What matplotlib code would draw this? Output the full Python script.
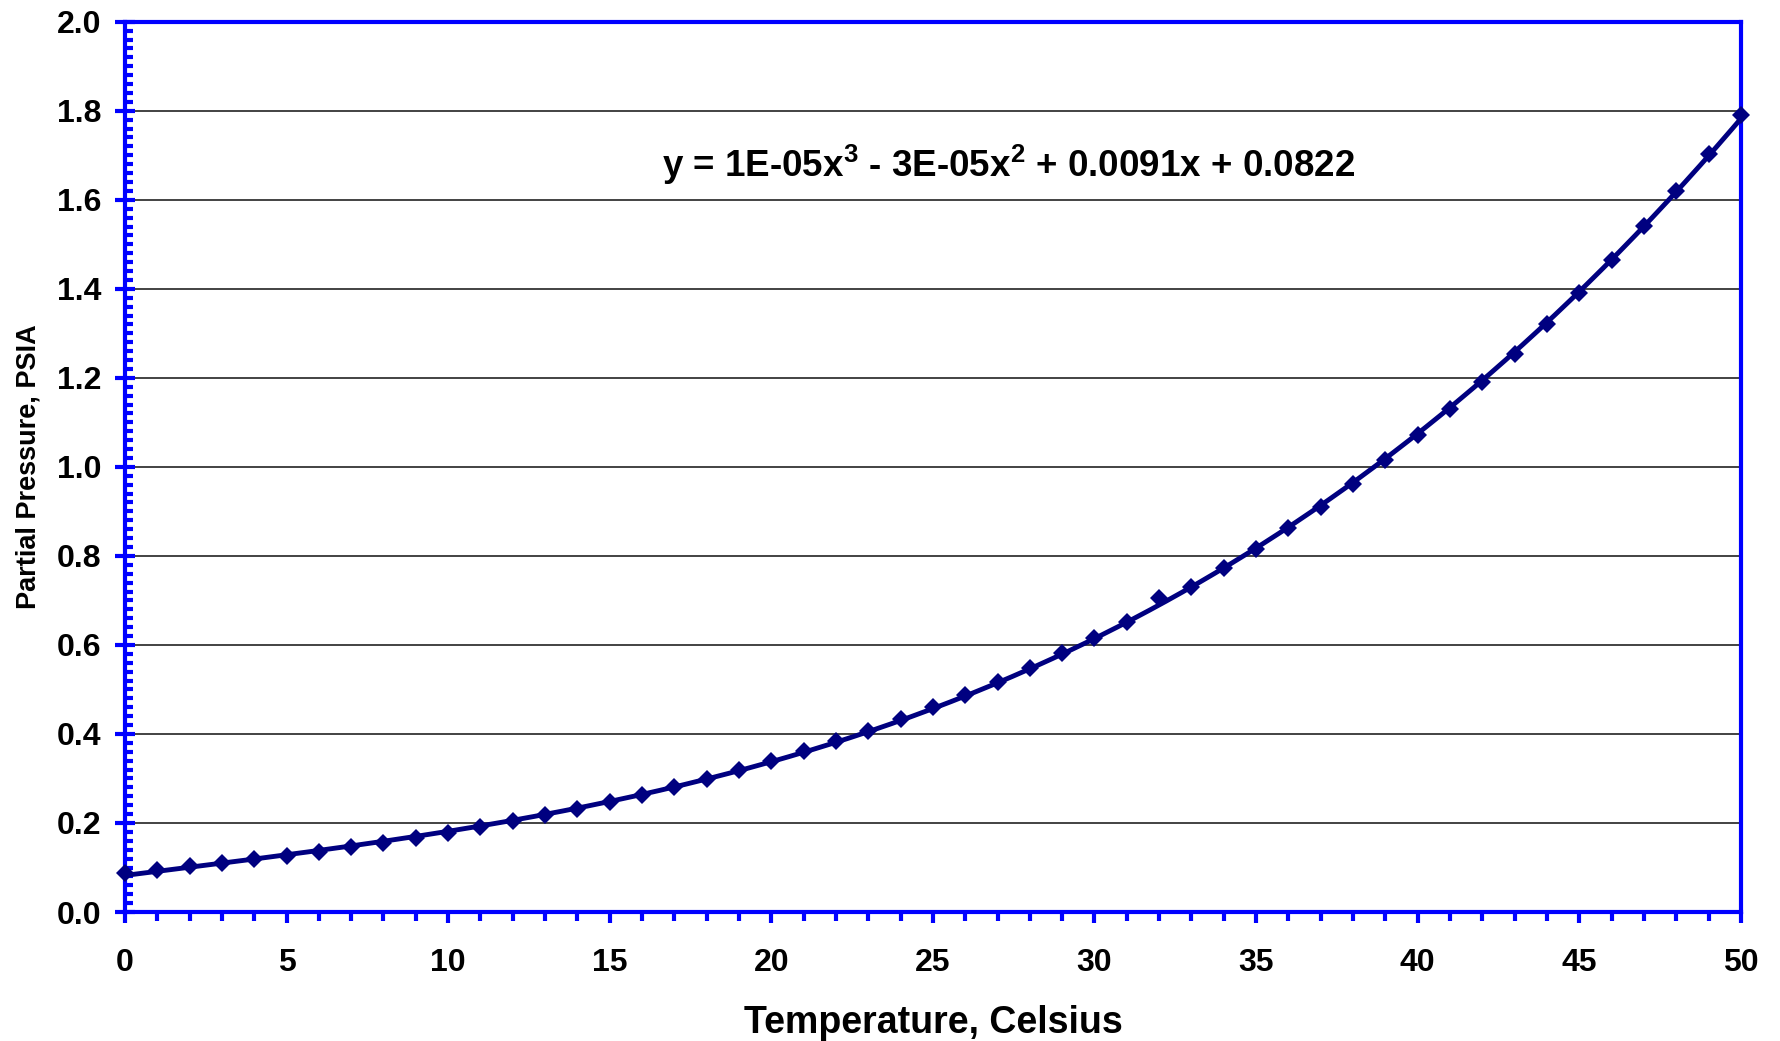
#! /usr/bin/env python

'''
Vapour pressure of water vs temperature, with cubic trendline
'''

import numpy as np
import matplotlib
matplotlib.use('Agg')
import matplotlib.pyplot as plt
from matplotlib.ticker import MultipleLocator

plt.rcParams['font.family'] = ['Liberation Sans', 'DejaVu Sans']
plt.rcParams['font.weight'] = 'bold'
plt.rcParams['mathtext.fontset'] = 'custom'
plt.rcParams['mathtext.rm'] = 'Liberation Sans:bold'
plt.rcParams['mathtext.bf'] = 'Liberation Sans:bold'

temp_c = list(range(0, 51))
pressure_psia = [
    0.0887, 0.0953, 0.1024, 0.1100, 0.1180, 0.1265, 0.1357, 0.1453, 0.1556, 0.1665,
    0.1781, 0.1904, 0.2034, 0.2173, 0.2319, 0.2474, 0.2637, 0.2811, 0.2994, 0.3188,
    0.3392, 0.3608, 0.3836, 0.4076, 0.4329, 0.4596, 0.4878, 0.5173, 0.5485, 0.5813,
    0.6158, 0.6520, 0.7060, 0.7300, 0.7720, 0.8161, 0.8623, 0.9108, 0.9616, 1.0148,
    1.0706, 1.1290, 1.1901, 1.2540, 1.3209, 1.3909, 1.4640, 1.5403, 1.6202, 1.7035,
    1.7904,
]
fit_label = r'y = 1E-05x$^{3}$ - 3E-05x$^{2}$ + 0.0091x + 0.0822'

navy = '#000080'
blue = '#0000FF'

fig = plt.figure(figsize=(17.8, 10.41), dpi=100)
ax = fig.add_axes([0.0702, 0.1239, 0.9078, 0.8552])

# cubic trendline through the data
coef = np.polyfit(temp_c, pressure_psia, 3)
xs = np.linspace(0, 50, 400)
ax.plot(xs, np.polyval(coef, xs), color=navy, linewidth=3.5, zorder=3, clip_on=False)
ax.plot(temp_c, pressure_psia, linestyle='none', marker='D', ms=9, color=navy,
        markeredgewidth=0, zorder=4, clip_on=False)

ax.set_xlim(0, 50)
ax.set_ylim(0, 2.0)
ax.xaxis.set_major_locator(MultipleLocator(5))
ax.xaxis.set_minor_locator(MultipleLocator(1))
ax.yaxis.set_major_locator(MultipleLocator(0.2))
ax.yaxis.set_minor_locator(MultipleLocator(0.02))
ax.yaxis.set_major_formatter(matplotlib.ticker.FormatStrFormatter('%.1f'))

ax.grid(axis='y', which='major', color='#222222', linewidth=1.2, zorder=1)
ax.set_axisbelow(True)

for side in ['left', 'right', 'top', 'bottom']:
    ax.spines[side].set_color(blue)
    ax.spines[side].set_linewidth(3)

ax.tick_params(axis='x', which='major', direction='out', length=8, width=3,
               color=blue, pad=18, labelsize=23)
ax.tick_params(axis='x', which='minor', direction='out', length=6.5, width=3, color=blue)
ax.tick_params(axis='y', which='major', direction='inout', length=14, width=3,
               color=blue, pad=10, labelsize=23)
ax.tick_params(axis='y', which='minor', direction='in', length=6, width=3, color=blue)

ax.set_xlabel('Temperature, Celsius', fontsize=27, fontweight='bold')
ax.set_ylabel('Partial Pressure, PSIA', fontsize=19.5, fontweight='bold')
ax.xaxis.label.set_va('center')
ax.xaxis.set_label_coords(0.5, -0.1245)
ax.yaxis.label.set_va('center')
ax.yaxis.set_label_coords(-0.0595, 0.5)

ax.text(0.547, 0.84, fit_label, transform=ax.transAxes, ha='center', va='center',
        fontsize=26.5, fontweight='bold')

plt.savefig('out.png', dpi=100)
